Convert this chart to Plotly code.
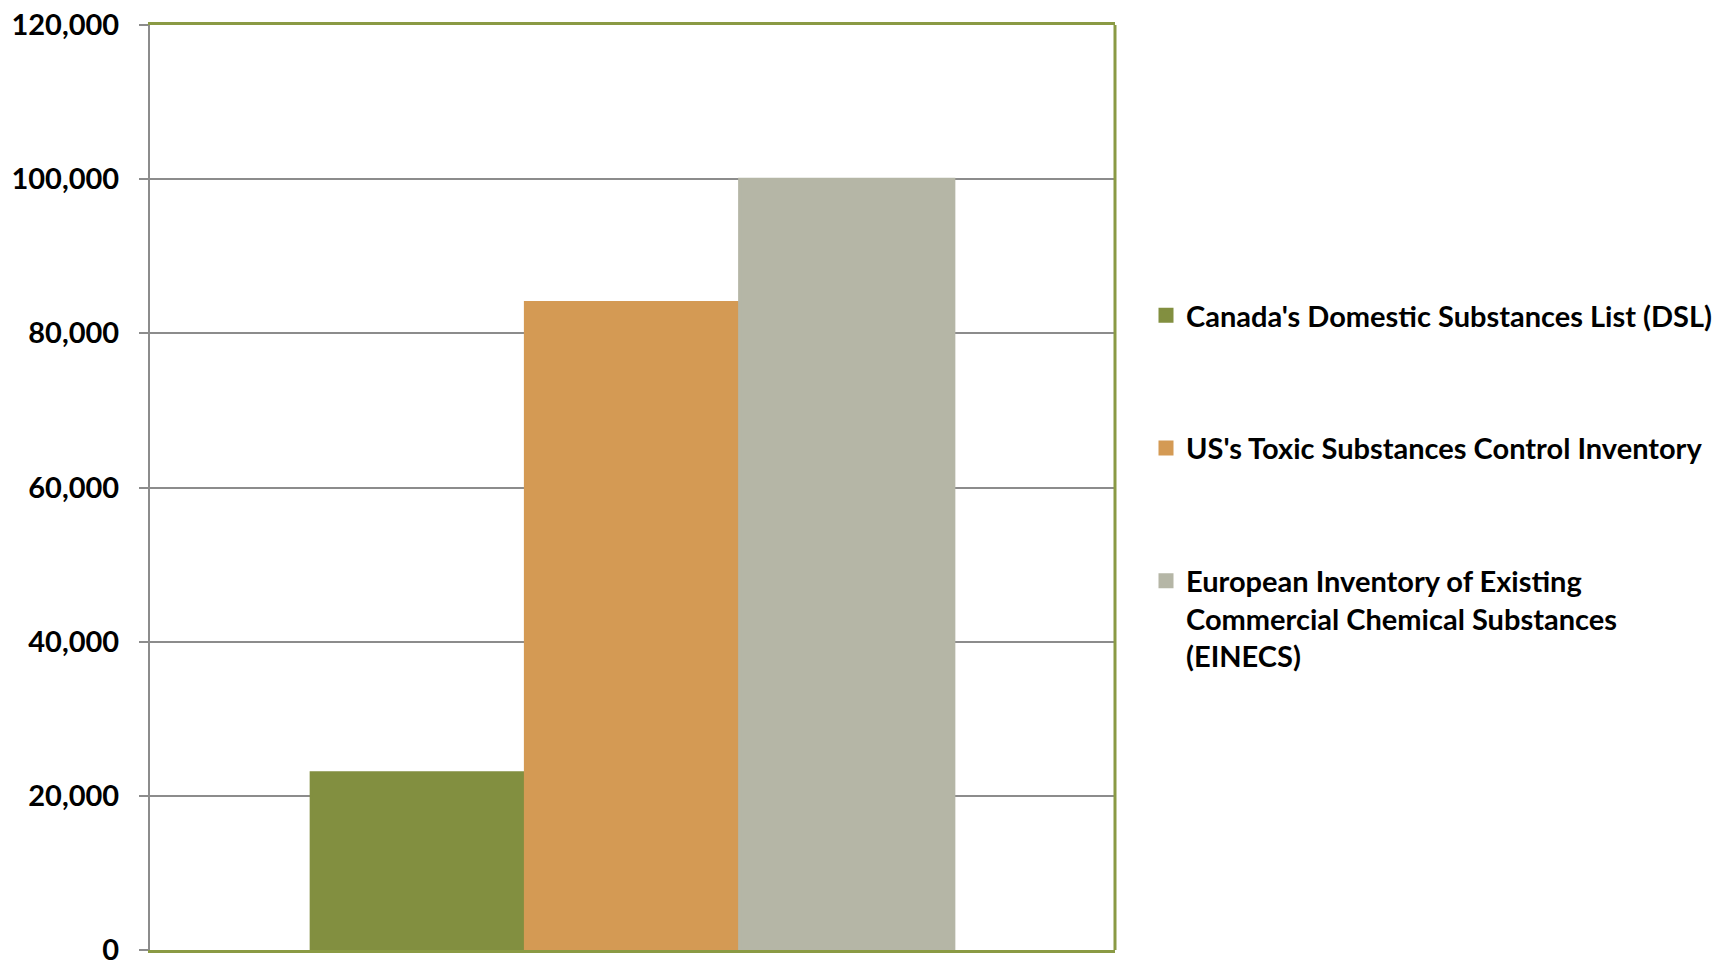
import plotly.graph_objects as go

category = [""]
series_names = [
    "Canada's Domestic Substances List (DSL)",
    "US's Toxic Substances Control Inventory",
    "European Inventory of Existing<br>Commercial Chemical Substances<br>(EINECS)",
]
series_values = [23000, 84000, 100000]
series_colors = ["#828F40", "#D49A54", "#B5B6A6"]
y_ticks = [0, 20000, 40000, 60000, 80000, 100000, 120000]

FONT = "Lato"
W, H = 1723, 960
L, R, T, B = 142, 616, 17, 18

fig = go.Figure()
for i, (name, val, col) in enumerate(zip(series_names, series_values, series_colors)):
    fig.add_trace(go.Bar(
        x=category, y=[val], name=name,
        marker=dict(color=col, line=dict(color=col, width=3)),
        legendgroup=f"g{i}",
    ))

fig.update_layout(
    width=W, height=H,
    margin=dict(l=L, r=R, t=T, b=B, autoexpand=False),
    paper_bgcolor="white", plot_bgcolor="white",
    barmode="group", bargap=0.334, bargroupgap=0,
    font=dict(family=FONT, size=28, color="black"),
    showlegend=True,
    legend=dict(
        xref="container", x=1138 / W, xanchor="left",
        yref="container", y=1 - 282 / H, yanchor="top",
        font=dict(family=FONT, size=29, color="black", weight="bold"),
        tracegroupgap=92, valign="top",
        bgcolor="rgba(0,0,0,0)",
    ),
    xaxis=dict(
        showticklabels=False, ticks="", showgrid=False,
        showline=True, linecolor="#8A9A44", linewidth=3, mirror=True,
        zeroline=False, automargin=False,
    ),
    yaxis=dict(
        range=[0, 120000], tickvals=y_ticks, tickformat=",",
        tickfont=dict(family=FONT, size=29, color="black", weight="bold"),
        ticks="outside", ticklen=9, tickwidth=2, tickcolor="#8C8C8C",
        showgrid=True, gridcolor="#8C8C8C", gridwidth=2,
        showline=True, linecolor="#8C8C8C", linewidth=2,
        zeroline=False, ticklabelstandoff=14, automargin=False,
        ticklabeloverflow="allow",
    ),
)
fig.add_shape(type="line", xref="x domain", yref="y domain",
              x0=1, x1=1, y0=0, y1=1,
              line=dict(color="#8A9A44", width=3), layer="above")

fig.write_html("out.html")
